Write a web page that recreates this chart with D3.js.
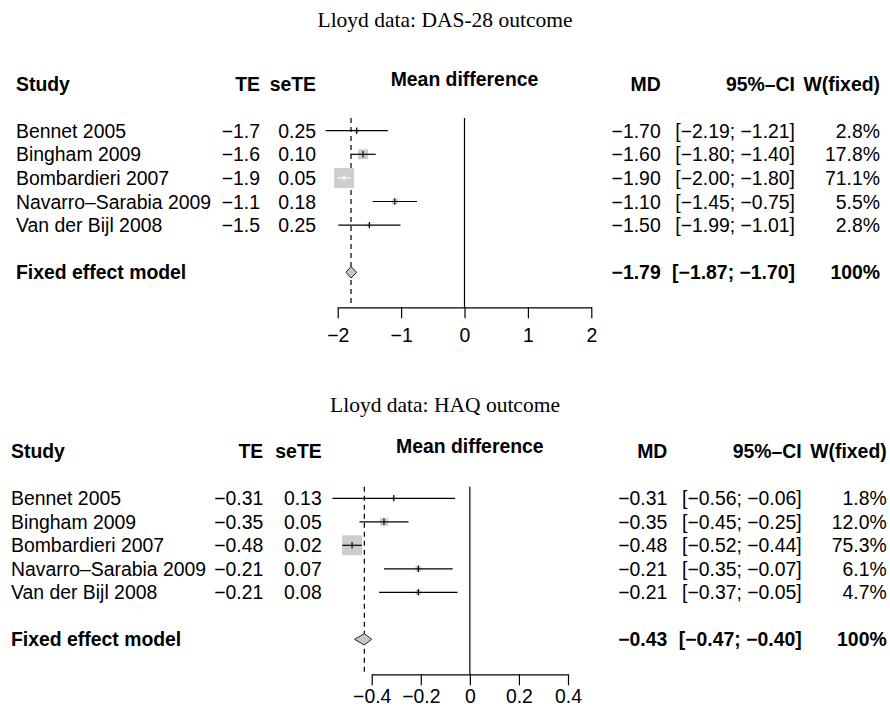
<!DOCTYPE html>
<html>
<head>
<meta charset="utf-8">
<script src="https://cdn.jsdelivr.net/npm/d3@7"></script>
<style>
  html, body { margin: 0; padding: 0; background: #fff; }
  svg { display: block; }
</style>
</head>
<body>
<svg id="chart" width="890" height="710"></svg>
<script>
// ---- data -------------------------------------------------------------
const studies = ["Bennet 2005", "Bingham 2009", "Bombardieri 2007", "Navarro–Sarabia 2009", "Van der Bijl 2008"];

// DAS-28 outcome
const dasTE     = [-1.7, -1.6, -1.9, -1.1, -1.5];
const dasSE     = [0.25, 0.10, 0.05, 0.18, 0.25];
const dasLower  = [-2.19, -1.80, -2.00, -1.45, -1.99];
const dasUpper  = [-1.21, -1.40, -1.80, -0.75, -1.01];
const dasWeight = [2.8, 17.8, 71.1, 5.5, 2.8];
const dasFixed  = [-1.79, -1.87, -1.70];   // estimate, lower, upper
const dasTicks  = [-2, -1, 0, 1, 2];

// HAQ outcome
const haqTE     = [-0.31, -0.35, -0.48, -0.21, -0.21];
const haqSE     = [0.13, 0.05, 0.02, 0.07, 0.08];
const haqLower  = [-0.56, -0.45, -0.52, -0.35, -0.37];
const haqUpper  = [-0.06, -0.25, -0.44, -0.07, -0.05];
const haqWeight = [1.8, 12.0, 75.3, 6.1, 4.7];
const haqFixed  = [-0.43, -0.47, -0.40];
const haqTicks  = [-0.4, -0.2, 0, 0.2, 0.4];

// ---- layout -----------------------------------------------------------
const panels = [
  {
    title: "Lloyd data: DAS-28 outcome", te: dasTE, se: dasSE, lower: dasLower, upper: dasUpper,
    weight: dasWeight, fixed: dasFixed, ticks: dasTicks, teDigits: 1,
    titleY: 27, headY: 90.7, meanHeadY: 86, row0: 130.7, pitch: 23.6,
    studyX: 16, teX: 260, seX: 316, range: [337.7, 591.3],
    mdX: 660.7, ciX: 795, wX: 880, lineTop: 118, axisY: 307.3, tickPad: 9.5
  },
  {
    title: "Lloyd data: HAQ outcome", te: haqTE, se: haqSE, lower: haqLower, upper: haqUpper,
    weight: haqWeight, fixed: haqFixed, ticks: haqTicks, teDigits: 2,
    titleY: 411.7, headY: 458.3, meanHeadY: 453.3, row0: 498.3, pitch: 23.5,
    studyX: 11, teX: 263.3, seX: 321.7, range: [371.7, 568.0],
    mdX: 667.3, ciX: 801.7, wX: 886.7, lineTop: 486.7, axisY: 674.3, tickPad: 3.5
  }
];

const FONT = "'Liberation Sans', Arial, Helvetica, sans-serif";
const SERIF = "'Liberation Serif', 'Times New Roman', serif";
const FS = 19.4;
const MAX_SQUARE = 20;
const SQUARE_FILL = "#cdcdcd";
const LW = 1.2;

const svg = d3.select("#chart");
svg.append("rect").attr("width", 890).attr("height", 710).attr("fill", "#fff");

const f2 = d3.format(".2f");
const f1 = d3.format(".1f");
const fTick = d3.format("");

panels.forEach(p => {
  const g = svg.append("g").attr("font-family", FONT).attr("font-size", FS).attr("fill", "#000");
  const x = d3.scaleLinear().domain([p.ticks[0], p.ticks[p.ticks.length - 1]]).range(p.range);
  const rowY = i => p.row0 + i * p.pitch;
  const base = 7;  // baseline offset from a row's centre
  const fTE = d3.format("." + p.teDigits + "f");
  const wMax = d3.max(p.weight);

  // title
  svg.append("text").attr("x", 445).attr("y", p.titleY).attr("text-anchor", "middle")
    .attr("font-family", SERIF).attr("font-size", 21.5).text(p.title);

  // column headers
  const head = (txt, xx, anchor, yy) => g.append("text").attr("x", xx).attr("y", yy)
    .attr("text-anchor", anchor).attr("font-weight", "bold").text(txt);
  head("Study", p.studyX, "start", p.headY);
  head("TE", p.teX, "end", p.headY);
  head("seTE", p.seX, "end", p.headY);
  head("Mean difference", x(0), "middle", p.meanHeadY);
  head("MD", p.mdX, "end", p.headY);
  head("95%–CI", p.ciX, "end", p.headY);
  head("W(fixed)", p.wX, "end", p.headY);

  // study rows: text columns
  const rows = studies.map((s, i) => ({
    name: s, te: p.te[i], se: p.se[i], lo: p.lower[i], hi: p.upper[i], w: p.weight[i], i
  }));

  const rowG = g.selectAll("g.row").data(rows).join("g").attr("class", "row");
  rowG.append("text").attr("x", p.studyX).attr("y", d => rowY(d.i) + base).text(d => d.name);
  rowG.append("text").attr("x", p.teX).attr("y", d => rowY(d.i) + base).attr("text-anchor", "end").text(d => fTE(d.te));
  rowG.append("text").attr("x", p.seX).attr("y", d => rowY(d.i) + base).attr("text-anchor", "end").text(d => f2(d.se));
  rowG.append("text").attr("x", p.mdX).attr("y", d => rowY(d.i) + base).attr("text-anchor", "end").text(d => f2(d.te));
  rowG.append("text").attr("x", p.ciX).attr("y", d => rowY(d.i) + base).attr("text-anchor", "end")
    .text(d => "[" + f2(d.lo) + "; " + f2(d.hi) + "]");
  rowG.append("text").attr("x", p.wX).attr("y", d => rowY(d.i) + base).attr("text-anchor", "end").text(d => f1(d.w) + "%");

  // fixed-effect row
  const fy = rowY(6);
  const bold = (txt, xx, anchor) => g.append("text").attr("x", xx).attr("y", fy + base)
    .attr("text-anchor", anchor).attr("font-weight", "bold").text(txt);
  bold("Fixed effect model", p.studyX, "start");
  bold(f2(p.fixed[0]), p.mdX, "end");
  bold("[" + f2(p.fixed[1]) + "; " + f2(p.fixed[2]) + "]", p.ciX, "end");
  bold("100%", p.wX, "end");

  // reference lines: no effect and fixed-effect estimate
  g.append("line").attr("x1", x(0)).attr("x2", x(0)).attr("y1", p.lineTop).attr("y2", p.axisY)
    .attr("stroke", "#000").attr("stroke-width", LW);
  g.append("line").attr("x1", x(p.fixed[0])).attr("x2", x(p.fixed[0])).attr("y1", p.lineTop).attr("y2", p.axisY)
    .attr("stroke", "#000").attr("stroke-width", LW).attr("stroke-dasharray", "5,4");

  // squares, confidence intervals and estimate ticks
  const marks = g.selectAll("g.mark").data(rows).join("g").attr("class", "mark");
  const side = d => MAX_SQUARE * Math.sqrt(d.w / wMax);
  marks.append("rect")
    .attr("x", d => x(d.te) - side(d) / 2).attr("y", d => rowY(d.i) - side(d) / 2)
    .attr("width", side).attr("height", side).attr("fill", SQUARE_FILL);
  // a CI lying wholly inside its square is drawn in white
  const inside = d => x(d.lo) > x(d.te) - side(d) / 2 + 1 && x(d.hi) < x(d.te) + side(d) / 2 - 1;
  marks.append("line")
    .attr("x1", d => x(d.lo)).attr("x2", d => x(d.hi))
    .attr("y1", d => rowY(d.i)).attr("y2", d => rowY(d.i))
    .attr("stroke", d => inside(d) ? "#fff" : "#000").attr("stroke-width", LW);
  marks.append("line")
    .attr("x1", d => x(d.te)).attr("x2", d => x(d.te))
    .attr("y1", d => rowY(d.i) - 3.2).attr("y2", d => rowY(d.i) + 3.2)
    .attr("stroke", d => inside(d) ? "#fff" : "#000").attr("stroke-width", LW);

  // pooled diamond
  const dh = 5.7;
  g.append("polygon")
    .attr("points", [[x(p.fixed[1]), fy], [x(p.fixed[0]), fy - dh], [x(p.fixed[2]), fy], [x(p.fixed[0]), fy + dh]].join(" "))
    .attr("fill", "#c6c6c6").attr("stroke", "#222").attr("stroke-width", 1);

  // x axis
  const axis = d3.axisBottom(x).tickValues(p.ticks).tickFormat(fTick)
    .tickSize(11).tickSizeOuter(0).tickPadding(p.tickPad);
  const ax = g.append("g").attr("transform", `translate(0,${p.axisY})`).call(axis);
  ax.attr("font-family", FONT).attr("font-size", FS);
  ax.selectAll("path, line").attr("stroke", "#000").attr("stroke-width", LW);
  ax.selectAll("text").attr("fill", "#000");
});
</script>
</body>
</html>
